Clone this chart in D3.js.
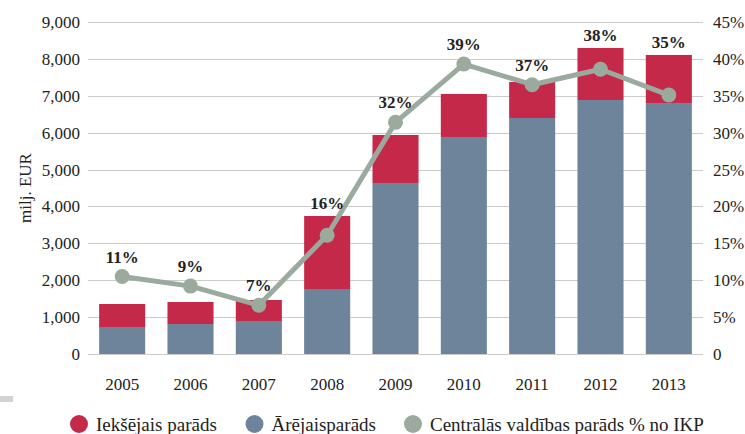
<!DOCTYPE html>
<html>
<head>
<meta charset="utf-8">
<script src="https://cdn.jsdelivr.net/npm/d3@7"></script>
<style>
  body { margin: 0; background: #fff; }
  svg { display: block; font-family: "Liberation Serif", "DejaVu Serif", serif; }
</style>
</head>
<body>
<div id="wrapper"></div>
<script>
const years = ["2005", "2006", "2007", "2008", "2009", "2010", "2011", "2012", "2013"];
const externalDebt = [732, 813, 895, 1762, 4636, 5883, 6398, 6886, 6805];
const domesticDebt = [623, 597, 569, 1979, 1301, 1166, 976, 1410, 1301];
const debtPctGdp = [10.5, 9.2, 6.6, 16.1, 31.4, 39.3, 36.5, 38.6, 35.1];
const pctLabels = ["11%", "9%", "7%", "16%", "32%", "39%", "37%", "38%", "35%"];
const leftTicks = [0, 1000, 2000, 3000, 4000, 5000, 6000, 7000, 8000, 9000];
const rightTicks = [0, 5, 10, 15, 20, 25, 30, 35, 40, 45];
const legendLabels = ["Iekšējais parāds", "Ārējaisparāds", "Centrālās valdības parāds % no IKP"];

function drawChart() {
    const dimensions = {
        width: 745,
        height: 434,
        margin: { top: 22, right: 42, bottom: 80, left: 88 }
    };
    dimensions.boundedWidth = dimensions.width - dimensions.margin.left - dimensions.margin.right;
    dimensions.boundedHeight = dimensions.height - dimensions.margin.top - dimensions.margin.bottom;

    const colors = { red: "#c4294a", blue: "#6d849b", gray: "#9aab9e", grid: "#cccccc" };

    const wrapper = d3.select("#wrapper")
        .append("svg")
        .attr("width", dimensions.width)
        .attr("height", dimensions.height);

    const bounds = wrapper.append("g")
        .attr("transform", `translate(${dimensions.margin.left}, ${dimensions.margin.top})`);

    const xScale = d3.scaleBand()
        .domain(years)
        .range([0, dimensions.boundedWidth])
        .paddingInner(0.326)
        .paddingOuter(0.163);

    const yScale = d3.scaleLinear()
        .domain([0, 9000])
        .range([dimensions.boundedHeight, 0]);

    const pctScale = d3.scaleLinear()
        .domain([0, 45])
        .range([dimensions.boundedHeight, 0]);

    // gridlines
    bounds.selectAll(".grid")
        .data(leftTicks)
        .join("line")
        .attr("class", "grid")
        .attr("x1", 0)
        .attr("x2", dimensions.boundedWidth)
        .attr("y1", d => Math.round(yScale(d)) + 0.5)
        .attr("y2", d => Math.round(yScale(d)) + 0.5)
        .attr("stroke", colors.grid)
        .attr("stroke-width", 1);

    // left axis
    const yAxis = bounds.append("g")
        .call(d3.axisLeft(yScale).tickValues(leftTicks).tickFormat(d3.format(",")).tickSize(0).tickPadding(8));
    yAxis.select(".domain").remove();
    yAxis.selectAll("text")
        .attr("font-family", "Liberation Serif, serif")
        .attr("font-size", 17)
        .attr("fill", "#222");

    // right axis
    const rAxis = bounds.append("g")
        .attr("transform", `translate(${dimensions.boundedWidth}, 0)`)
        .call(d3.axisRight(pctScale).tickValues(rightTicks).tickFormat(d => d === 0 ? "0" : d + "%").tickSize(0).tickPadding(10));
    rAxis.select(".domain").remove();
    rAxis.selectAll("text")
        .attr("font-family", "Liberation Serif, serif")
        .attr("font-size", 17)
        .attr("fill", "#222");

    // x axis
    const xAxis = bounds.append("g")
        .attr("transform", `translate(0, ${dimensions.boundedHeight})`)
        .call(d3.axisBottom(xScale).tickSize(0).tickPadding(24));
    xAxis.select(".domain").remove();
    xAxis.selectAll("text")
        .attr("font-family", "Liberation Serif, serif")
        .attr("font-size", 17)
        .attr("fill", "#222");

    // bars
    const rows = years.map((y, i) => ({ year: y, ext: externalDebt[i], dom: domesticDebt[i], pct: debtPctGdp[i], label: pctLabels[i] }));

    bounds.selectAll(".bar-ext")
        .data(rows)
        .join("rect")
        .attr("class", "bar-ext")
        .attr("x", d => xScale(d.year))
        .attr("width", xScale.bandwidth())
        .attr("y", d => yScale(d.ext))
        .attr("height", d => yScale(0) - yScale(d.ext))
        .attr("fill", colors.blue);

    bounds.selectAll(".bar-dom")
        .data(rows)
        .join("rect")
        .attr("class", "bar-dom")
        .attr("x", d => xScale(d.year))
        .attr("width", xScale.bandwidth())
        .attr("y", d => yScale(d.ext + d.dom))
        .attr("height", d => yScale(d.ext) - yScale(d.ext + d.dom))
        .attr("fill", colors.red);

    // line
    const lineGenerator = d3.line()
        .x(d => xScale(d.year) + xScale.bandwidth() / 2)
        .y(d => pctScale(d.pct));

    bounds.append("path")
        .datum(rows)
        .attr("d", lineGenerator)
        .attr("fill", "none")
        .attr("stroke", colors.gray)
        .attr("stroke-width", 5)
        .attr("stroke-linejoin", "round");

    bounds.selectAll(".marker")
        .data(rows)
        .join("circle")
        .attr("class", "marker")
        .attr("cx", d => xScale(d.year) + xScale.bandwidth() / 2)
        .attr("cy", d => pctScale(d.pct))
        .attr("r", 7.5)
        .attr("fill", colors.gray);

    // value labels sit above whichever is higher: the marker or the bar top
    bounds.selectAll(".pct-label")
        .data(rows)
        .join("text")
        .attr("class", "pct-label")
        .attr("x", d => xScale(d.year) + xScale.bandwidth() / 2)
        .attr("y", d => Math.min(pctScale(d.pct) - 7, yScale(d.ext + d.dom)) - 7)
        .attr("text-anchor", "middle")
        .attr("font-size", 17)
        .attr("font-weight", "bold")
        .attr("fill", "#222")
        .text(d => d.label);

    // y axis title
    wrapper.append("text")
        .attr("transform", `translate(31, 188) rotate(-90)`)
        .attr("text-anchor", "middle")
        .attr("font-size", 17)
        .attr("fill", "#222")
        .text("milj. EUR");

    // small gray mark at the left edge
    wrapper.append("rect")
        .attr("x", 0).attr("y", 396)
        .attr("width", 13).attr("height", 6)
        .attr("fill", "#d3d3d3");

    // legend
    const legendColors = [colors.red, colors.blue, colors.gray];
    const legendX = [79, 254.5, 413];
    const legend = wrapper.append("g");
    legendLabels.forEach((label, i) => {
        legend.append("circle")
            .attr("cx", legendX[i]).attr("cy", 424)
            .attr("r", 9)
            .attr("fill", legendColors[i]);
        legend.append("text")
            .attr("x", legendX[i] + 17).attr("y", 431)
            .attr("font-size", 19)
            .attr("fill", "#222")
            .text(label);
    });
}

drawChart();
</script>
</body>
</html>
